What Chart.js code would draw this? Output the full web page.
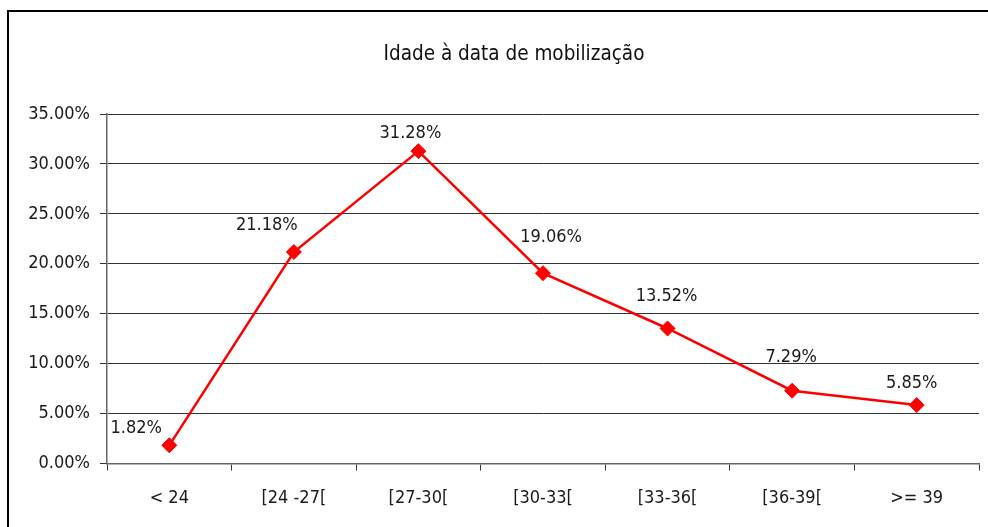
<!DOCTYPE html>
<html>
<head>
<meta charset="utf-8">
<script src="https://cdn.jsdelivr.net/npm/chart.js@4/dist/chart.umd.min.js"></script>
<style>
  html, body { margin: 0; padding: 0; background: #fff; overflow: hidden; }
  #wrap { position: absolute; left: 0; top: 0; width: 988px; height: 527px; }
</style>
</head>
<body>
<div id="wrap"><canvas id="c" width="988" height="527"></canvas></div>
<script>
const categories = ['< 24', '[24 -27[', '[27-30[', '[30-33[', '[33-36[', '[36-39[', '>= 39'];
const values = [1.82, 21.18, 31.28, 19.06, 13.52, 7.29, 5.85];
const titleText = 'Idade à data de mobilização';
const yMin = 0, yMax = 35, yStep = 5;

const FONT = "'Liberation Sans Narrow', 'Arial Narrow', 'DejaVu Sans Condensed', sans-serif";

const frame = {
  id: 'frame',
  beforeDraw(chart, args, opts) {
    const ctx = chart.ctx;
    ctx.save();
    ctx.fillStyle = '#fff';
    ctx.fillRect(0, 0, chart.width, chart.height);
    ctx.strokeStyle = '#000';
    ctx.lineWidth = 2;
    ctx.beginPath();
    ctx.moveTo(8, chart.height + 5);
    ctx.lineTo(8, 11);
    ctx.lineTo(chart.width + 5, 11);
    ctx.stroke();
    ctx.fillStyle = opts.color;
    ctx.font = opts.font;
    ctx.textAlign = 'center';
    ctx.textBaseline = 'middle';
    ctx.fillText(opts.text, opts.x, opts.y);
    ctx.restore();
  }
};

const valueLabels = {
  id: 'valueLabels',
  afterDatasetsDraw(chart, args, opts) {
    const ctx = chart.ctx;
    const meta = chart.getDatasetMeta(0);
    ctx.save();
    ctx.font = opts.font;
    ctx.fillStyle = opts.color;
    ctx.textAlign = 'center';
    ctx.textBaseline = 'middle';
    meta.data.forEach((pt, i) => {
      const off = opts.offsets[i] || [0, -20];
      ctx.fillText(values[i].toFixed(2) + '%', pt.x + off[0], pt.y + off[1]);
    });
    ctx.restore();
  }
};

new Chart(document.getElementById('c'), {
  type: 'line',
  data: {
    labels: categories,
    datasets: [{
      data: values,
      borderColor: '#FF0000',
      backgroundColor: '#FF0000',
      borderWidth: 2.5,
      tension: 0,
      pointStyle: 'rectRot',
      pointRadius: 7.5,
      pointBorderWidth: 1,
      pointBackgroundColor: '#FF0000',
      pointBorderColor: '#FF0000'
    }]
  },
  options: {
    responsive: false,
    animation: false,
    devicePixelRatio: 1,
    layout: { padding: { left: 10, right: 9, top: 114, bottom: 0 } },
    plugins: {
      legend: { display: false },
      tooltip: { enabled: false },
      title: { display: false },
      frame: { text: titleText, x: 514, y: 55, color: '#111', font: "20.5px " + FONT },
      valueLabels: {
        font: "18px " + FONT,
        color: '#1a1a1a',
        offsets: [[-33, -17], [-27, -27], [-8, -18], [8, -36], [-1, -32], [-1, -33], [-5, -22]]
      }
    },
    scales: {
      x: {
        offset: true,
        grid: { offset: true, drawOnChartArea: false, drawTicks: true, tickLength: 7, color: '#333', lineWidth: 1 },
        border: { display: true, color: '#666', width: 1.5 },
        ticks: { color: '#1a1a1a', font: { family: FONT, size: 18 }, padding: 17, maxRotation: 0, autoSkip: false },
        afterFit(scale) { scale.height = 63.5; }
      },
      y: {
        min: yMin, max: yMax,
        grid: { color: '#333', lineWidth: 1, tickLength: 7, drawTicks: true },
        border: { display: true, color: '#666', width: 1.5 },
        ticks: {
          stepSize: yStep,
          color: '#1a1a1a',
          font: { family: FONT, size: 18 },
          padding: 10,
          callback: v => v.toFixed(2) + '%'
        },
        afterFit(scale) { scale.width = 97; }
      }
    }
  },
  plugins: [frame, valueLabels]
});
</script>
</body>
</html>
